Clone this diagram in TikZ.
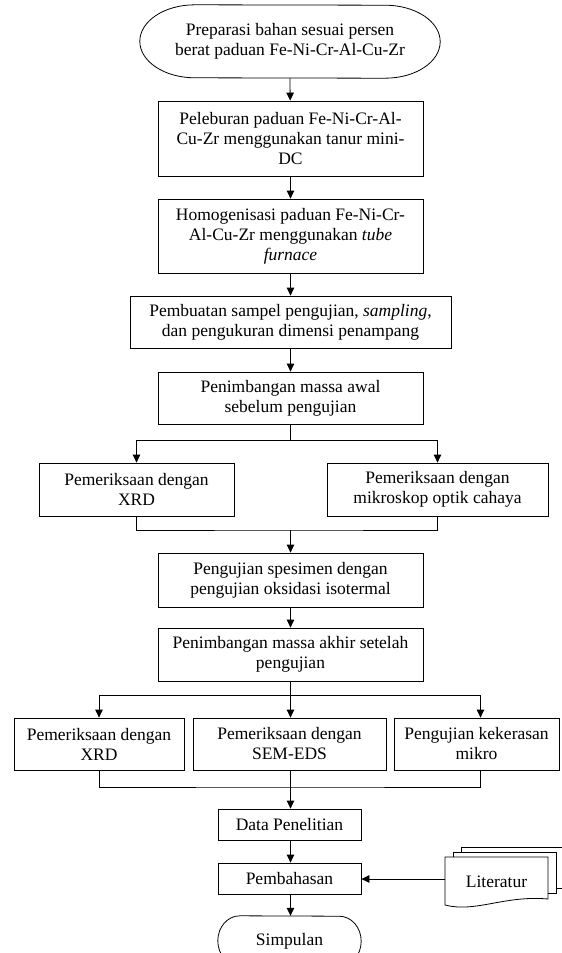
\documentclass[tikz,border=0pt]{standalone}
\usepackage{fontspec}
\setmainfont{Liberation Serif}
\usetikzlibrary{arrows.meta,calc}
\begin{document}
\begin{tikzpicture}[x=1pt,y=-1pt,
  every node/.style={font=\fontsize{17.5}{20}\selectfont, align=center, inner sep=0pt},
  box/.style={draw, line width=0.8pt, minimum width=#1},
  line/.style={line width=0.8pt},
  arr/.style={line width=0.8pt, -{Triangle[length=8pt,width=7.5pt]}}
]
\useasboundingbox (0,0) rectangle (562,953);
\clip (0,0) rectangle (562,953);

% main column
\node[minimum width=300pt, minimum height=73pt] (start) at (290,41.5)
  {Preparasi bahan sesuai persen\\berat paduan Fe-Ni-Cr-Al-Cu-Zr};
\draw[line] ($(start.north west)+(55,0)$)
  arc[start angle=270,end angle=90,x radius=55,y radius=36.5]
  -- ($(start.south east)+(-55,0)$)
  arc[start angle=90,end angle=-90,x radius=55,y radius=36.5] -- cycle;
\node[box=265pt, minimum height=75pt] (lebur) at (290.5,138.5)
  {Peleburan paduan Fe-Ni-Cr-Al-\\Cu-Zr menggunakan tanur mini-\\DC};
\node[box=265pt, minimum height=74pt] (homo) at (290.5,236)
  {Homogenisasi paduan Fe-Ni-Cr-\\Al-Cu-Zr menggunakan \textit{tube}\\\textit{furnace}};
\node[box=321pt, minimum height=52pt] (sampel) at (290.5,322)
  {Pembuatan sampel pengujian, \textit{sampling},\\dan pengukuran dimensi penampang};
\node[box=265pt, minimum height=52pt] (awal) at (290.5,398)
  {Penimbangan massa awal\\sebelum pengujian};
\node[box=195pt, minimum height=53pt] (xrda) at (136.5,489.5)
  {Pemeriksaan dengan\\XRD};
\node[box=221pt, minimum height=53pt] (optik) at (437.5,489.5)
  {Pemeriksaan dengan\\mikroskop optik cahaya};
\node[box=265pt, minimum height=54pt] (oks) at (290.5,580)
  {Pengujian spesimen dengan\\pengujian oksidasi isotermal};
\node[box=265pt, minimum height=53pt] (akhir) at (290.5,654.5)
  {Penimbangan massa akhir setelah\\pengujian};
\node[box=170pt, minimum height=52pt] (xrdb) at (99,744)
  {Pemeriksaan dengan\\XRD};
\node[box=193pt, minimum height=52pt] (sem) at (289.5,744)
  {Pemeriksaan dengan\\SEM-EDS};
\node[box=165pt, minimum height=52pt] (keras) at (476.5,744)
  {Pengujian kekerasan\\mikro};
\node[box=143pt, minimum height=31pt] (data) at (289.5,824.5)
  {Data Penelitian};
\node[box=143pt, minimum height=31pt] (bahas) at (289.5,878.5)
  {Pembahasan};
\node[minimum width=143pt, minimum height=50pt] (simpul) at (289.5,941)
  {Simpulan};
\draw[line] ($(simpul.north west)+(22,0)$)
  arc[start angle=270,end angle=90,x radius=22,y radius=25]
  -- ($(simpul.south east)+(-22,0)$)
  arc[start angle=90,end angle=-90,x radius=22,y radius=25] -- cycle;

% Literatur (multi-document)
\draw[line] (461,852) -- (461,847) -- (575,847);
\draw[line] (556,888) -- (575,888);
\draw[line] (453,857) -- (453,852) -- (556,852) -- (556,893) -- (548,893);
\draw[line] (445,905) -- (445,857) -- (548,857) -- (548,899)
  .. controls (505,895) and (475,913) .. (445,905);
\node (lit) at (496.5,882) {Literatur};
\coordinate (litw) at (445,879);

% connectors
\draw[arr] (start.south) -- (lebur);
\draw[arr] (lebur) -- (homo);
\draw[arr] (homo) -- (sampel);
\draw[arr] (sampel) -- (awal);

\coordinate (b1) at (290.5,440);
\draw[line] (awal.south) -- (b1);
\draw[arr] (b1) -| (xrda.north);
\draw[arr] (b1) -| (optik.north);

\coordinate (m1) at (290.5,530);
\draw[line] (xrda.south) |- (m1) -| (optik.south);
\draw[arr] (m1) -- (oks.north);

\draw[arr] (oks) -- (akhir);

\coordinate (b2) at (290.5,695);
\draw[line] (akhir.south) -- (b2);
\draw[arr] (b2) -| (xrdb.north);
\draw[arr] (b2) -- (sem.north -| b2);
\draw[arr] (b2) -| ($(keras.north)+(4,0)$);

\coordinate (m2) at (290.5,787);
\draw[line] (xrdb.south) |- (m2) -| ($(keras.south)+(4,0)$);
\draw[line] (sem.south -| m2) -- (m2);
\draw[arr] (m2) -- (data.north -| m2);

\draw[arr] (data.south -| m2) -- (bahas.north -| m2);
\draw[arr] (bahas.south -| m2) -- (simpul.north -| m2);
\draw[arr] (litw) -- (litw -| bahas.east);
\end{tikzpicture}
\end{document}
